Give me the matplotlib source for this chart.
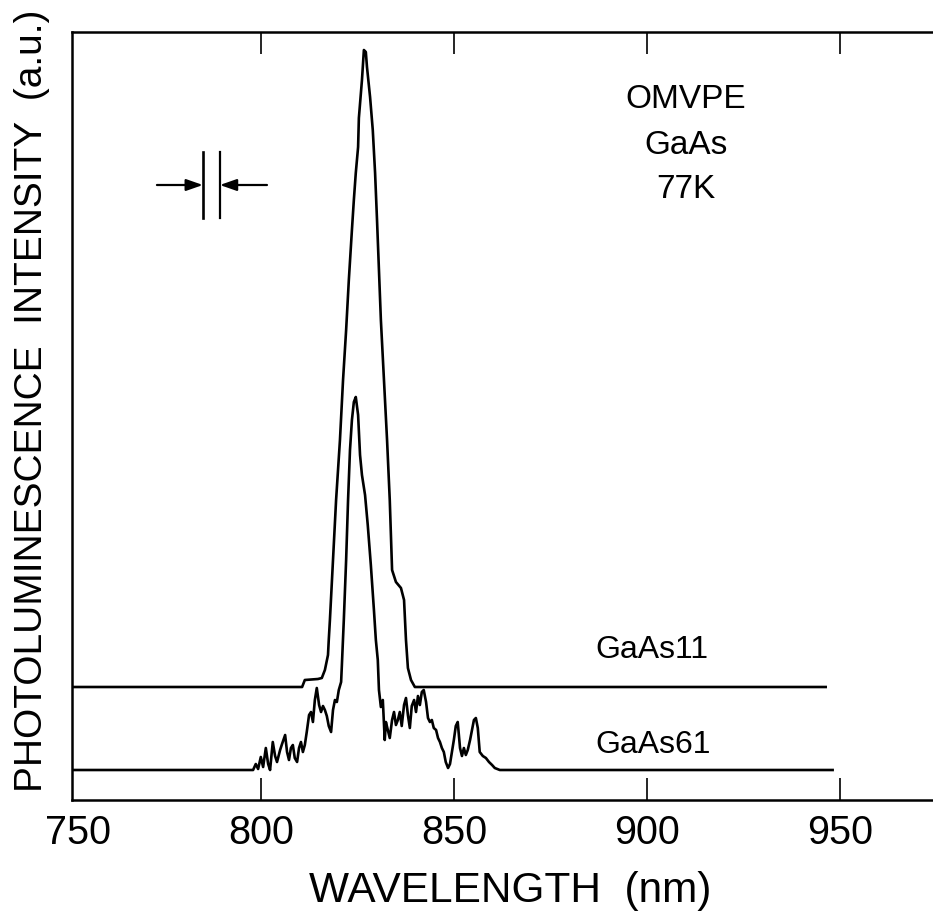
import matplotlib
matplotlib.use("Agg")
import matplotlib.pyplot as plt

FONT = ["Liberation Sans", "DejaVu Sans"]
plt.rcParams["font.family"] = FONT

# Photoluminescence spectra at 77 K (wavelength in nm, intensity in a.u.)
gaas11_wl = [751.0, 810.6, 811.3, 814.7, 815.7, 816.5, 817.3, 817.5, 817.8, 818.6,
             819.4, 820.4, 821.2, 822.0, 822.7, 823.5, 824.0, 824.5, 825.1, 825.3,
             826.1, 826.6, 827.1, 827.4, 828.2, 828.9, 829.5, 830.0, 830.5, 831.0,
             831.8, 832.6, 833.3, 833.9, 834.9, 836.2, 837.0, 837.5, 838.0, 838.8,
             839.8, 946.2]
gaas11_int = [113, 113, 120, 121, 122, 130, 145, 160, 180, 240,
              300, 360, 420, 470, 520, 570, 600, 627, 653, 682,
              720, 750, 748, 733, 703, 670, 627, 580, 530, 480,
              420, 360, 300, 230, 218, 212, 200, 160, 132, 120,
              113, 113]

gaas61_wl = [751.0, 797.9, 798.6, 799.2, 799.9, 800.5, 801.2, 801.8, 802.3, 803.0,
             803.6, 804.1, 804.9, 805.4, 806.2, 806.7, 807.2, 807.7, 808.2, 808.7,
             809.3, 809.8, 810.3, 810.8, 811.3, 811.8, 812.4, 812.9, 813.4, 813.9,
             814.4, 815.0, 815.5, 816.0, 816.5, 817.0, 817.5, 818.1, 818.6, 819.1,
             819.6, 820.1, 820.7, 820.9, 821.4, 822.0, 822.5, 823.0, 823.5, 824.0,
             824.5, 825.1, 825.6, 826.1, 826.9, 827.6, 828.4, 829.2, 829.7, 830.2,
             830.5, 831.0, 831.5, 832.0, 832.3, 832.8, 833.3, 833.9, 834.4, 834.9,
             835.4, 835.9, 836.4, 837.0, 837.5, 838.0, 838.5, 839.0, 839.6, 840.1,
             840.6, 841.1, 841.6, 842.1, 842.7, 843.2, 843.7, 844.2, 844.7, 845.3,
             845.8, 846.3, 846.8, 847.3, 847.8, 848.4, 848.9, 849.4, 849.9, 850.4,
             850.9, 851.5, 852.0, 852.5, 853.0, 853.5, 854.1, 854.6, 855.1, 855.6,
             856.1, 856.6, 857.4, 858.2, 859.0, 859.8, 860.5, 861.8, 948.0]
gaas61_int = [30, 30, 36, 31, 43, 33, 52, 36, 30, 58,
              44, 38, 50, 56, 65, 48, 40, 52, 55, 42,
              38, 52, 58, 48, 55, 68, 85, 88, 78, 100,
              112, 95, 88, 94, 90, 84, 74, 68, 90, 100,
              98, 110, 118, 135, 180, 240, 300, 350, 380, 398,
              403, 385, 345, 325, 305, 275, 235, 190, 160, 140,
              110, 93, 100, 60, 78, 70, 62, 80, 88, 75,
              80, 88, 74, 95, 102, 85, 72, 94, 100, 88,
              104, 95, 108, 110, 98, 82, 78, 80, 72, 70,
              62, 58, 52, 48, 38, 32, 36, 48, 60, 74,
              78, 52, 44, 52, 45, 50, 60, 70, 80, 82,
              72, 48, 44, 42, 38, 35, 32, 30, 30]

x_ticks = [800, 850, 900, 950]

# Spectral resolution marker (slit width)
res_left, res_right = 784.9, 789.3
res_y0, res_y1, res_arrow_y = 582, 648, 615
arrow_from_left, arrow_from_right = 773.0, 801.5

fig = plt.figure(figsize=(9.33, 9.17), dpi=100)
ax = fig.add_axes([72 / 933, 117 / 917, 1 - 72 / 933, 768 / 917])

ax.plot(gaas11_wl, gaas11_int, color="black", lw=1.9, solid_joinstyle="round")
ax.plot(gaas61_wl, gaas61_int, color="black", lw=1.9, solid_joinstyle="round")

ax.set_xlim(751, 974)
ax.set_ylim(0, 768)

for side in ("top", "bottom", "left"):
    ax.spines[side].set_linewidth(1.8)
ax.spines["right"].set_visible(False)

ax.set_xticks(x_ticks)
ax.set_yticks([])
ax.tick_params(axis="x", direction="in", length=16, width=1.2, top=True,
               labeltop=False, labelsize=28.5, pad=10)

# 750 label sits at the left corner of the frame
ax.text(752.5, -13.9, "750", ha="center", va="top", fontsize=28.5, clip_on=False)

ax.set_xlabel("WAVELENGTH  (nm)", fontsize=30.5)
ax.xaxis.label.set_va("center")
ax.xaxis.set_label_coords(0.509, -0.118)

ax.set_ylabel("PHOTOLUMINESCENCE  INTENSITY  (a.u.)", fontsize=28)
ax.yaxis.label.set_va("center")
ax.yaxis.set_label_coords(-0.046, 0.52)

ax.text(910, 700, "OMVPE", ha="center", va="center", fontsize=24)
ax.text(910, 655, "GaAs", ha="center", va="center", fontsize=24)
ax.text(910, 610, "77K", ha="center", va="center", fontsize=24)

ax.text(886.5, 150, "GaAs11", ha="left", va="center", fontsize=23)
ax.text(886.5, 55, "GaAs61", ha="left", va="center", fontsize=23)

ax.plot([res_left, res_left], [res_y0, res_y1], color="black", lw=1.9)
ax.plot([res_right, res_right], [res_y0, res_y1], color="black", lw=1.6)
ax.annotate("", xy=(res_left, res_arrow_y), xytext=(arrow_from_left, res_arrow_y),
            arrowprops=dict(arrowstyle="-|>,head_length=1.0,head_width=0.35",
                            color="black", lw=1.6, shrinkA=0, shrinkB=0))
ax.annotate("", xy=(res_right, res_arrow_y), xytext=(arrow_from_right, res_arrow_y),
            arrowprops=dict(arrowstyle="-|>,head_length=1.0,head_width=0.35",
                            color="black", lw=1.6, shrinkA=0, shrinkB=0))

fig.savefig("out.png", dpi=100)
